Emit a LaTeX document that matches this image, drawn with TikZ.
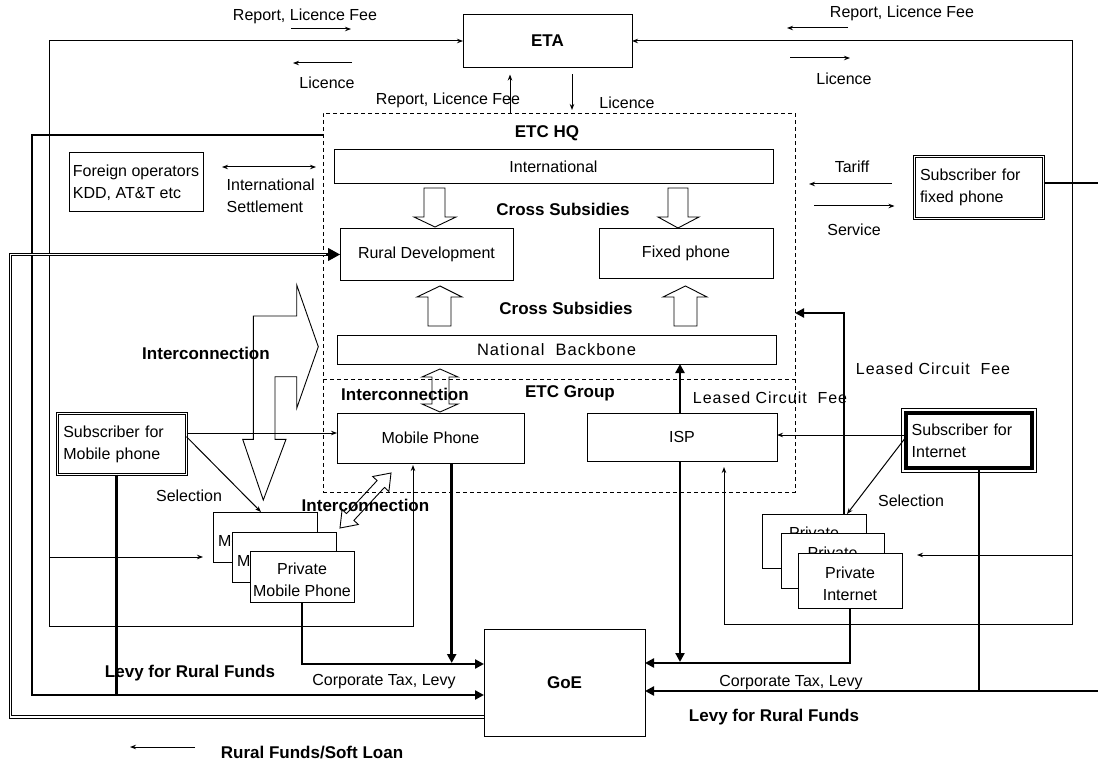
\documentclass[tikz,border=0pt]{standalone}
\usepackage{fontspec}
\setmainfont{Liberation Sans}
\newfontfamily\spacedfont[LetterSpace=6]{Liberation Sans}
\usetikzlibrary{arrows.meta}
\begin{document}
\begin{tikzpicture}[x=1pt,y=-1pt,
  every node/.style={inner sep=0pt, outer sep=0pt},
  txt/.style={font=\fontsize{16}{22}\selectfont},
  hdr/.style={font=\fontsize{17}{22}\selectfont\bfseries},
  wide/.style={font=\fontsize{16}{22}\spacedfont},
  box/.style={draw, line width=1pt, fill=white, txt, align=center},
  dblbox/.style={draw, double, double distance=1.6pt, line width=0.7pt, fill=white, txt, align=left},
  hqbox/.style={draw, line width=0.9pt, dash pattern=on 4pt off 3pt},
  hqline/.style={line width=0.9pt, dash pattern=on 4pt off 3pt},
  flow/.style={line width=1pt, -{Stealth[length=6pt,width=4.5pt]}},
  flowboth/.style={line width=1pt, {Stealth[length=6pt,width=4.5pt]}-{Stealth[length=6pt,width=4.5pt]}},
  money/.style={line width=2.6pt, -{Triangle[length=9pt,width=9pt]}},
  moneyline/.style={line width=2.6pt},
  fund/.style={double, double distance=1.8pt, line width=0.8pt},
  fundtip/.style={line width=1pt, -{Triangle[length=12pt,width=13pt]}},
  hollow/.style={draw, line width=0.9pt, line join=miter}
]
\useasboundingbox (0,0) rectangle (1098,762);
\fill[white] (0,0) rectangle (1098,762);

% ---------- boxes ----------
\node[box, hdr, minimum width=169pt, minimum height=53pt] (eta) at (547.5,41) {ETA};
\node[hqbox, minimum width=472pt, minimum height=379pt] (hq) at (559,302.5) {};
\draw[hqline] (hq.west |- 0,379) -- (hq.east |- 0,379);

\node[box, minimum width=439pt, minimum height=34pt] (intl) at (553.5,167) {International};
\node[box, minimum width=173pt, minimum height=51pt] (rd) at (426.5,254.5) {Rural Development};
\node[box, minimum width=174pt, minimum height=49pt] (fp) at (686,253.5) {Fixed phone};
\node[box, font=\fontsize{16.5}{22}\spacedfont, minimum width=439pt, minimum height=29pt] (nb) at (556.5,349.5) {National\ \ Backbone};
\node[box, minimum width=187pt, minimum height=50pt] (mob) at (430.5,438) {Mobile Phone};
\node[box, minimum width=190pt, minimum height=48pt] (isp) at (682,437) {ISP};
\node[box, hdr, minimum width=161pt, minimum height=107pt] (goe) at (564.5,682.5) {GoE};

\node[box, align=left, minimum width=134pt, minimum height=59pt] (fo) at (136,182.5) {Foreign operators\\KDD, AT\&T etc};

\node[dblbox, inner xsep=5.5pt, text width=118pt, minimum height=62pt] (sf) at (979,187.5) {Subscriber for\\fixed phone};
\node[dblbox, inner xsep=5.8pt, text width=117.4pt, minimum height=61pt] (sm) at (122,444) {Subscriber for\\Mobile phone};

\node[draw, line width=4pt, fill=white, txt, align=left, inner xsep=5.7pt, text width=114.6pt, minimum height=55pt] (si) at (969,440.5) {Subscriber for\\Internet};
\draw[line width=1pt] ([shift={(-4.5,-4.5)}]si.north west) rectangle ([shift={(4.5,4.5)}]si.south east);

% private mobile operators (stacked, only the edge of the rear ones shows)
\node[box, minimum width=104pt, minimum height=50pt] (mb1) at (265,537) {};
\node[txt, anchor=west] at ([xshift=5pt,yshift=-4pt]mb1.west) {Mo};
\node[box, minimum width=104pt, minimum height=50pt] (mb2) at (284,557) {};
\node[txt, anchor=west] at ([xshift=5pt,yshift=-4pt]mb2.west) {Mo};
\node[box, minimum width=104pt, minimum height=51pt] (mb3) at (302,576.5) {};
\node[txt, align=center] at ([yshift=-3.5pt]mb3.center) {Private\\Mobile Phone};

% private internet providers (stacked)
\node[box, minimum width=104pt, minimum height=54pt] (ib1) at (814,541) {};
\node[txt] at ([yshift=8pt]ib1.center) {Private};
\node[box, minimum width=103pt, minimum height=55pt] (ib2) at (832.5,560.5) {};
\node[txt] at ([yshift=8pt]ib2.center) {Private};
\node[box, minimum width=104pt, minimum height=55pt] (ib3) at (850,580.5) {};
\node[txt, align=center] at ([yshift=-3.5pt]ib3.center) {Private\\Internet};

% ---------- hollow block arrows ----------
\draw[hollow] (424,188) -- (445,188) -- (445,217) -- (456,217) -- (435,227) -- (414,217) -- (424,217) -- cycle;
\draw[hollow] (668,188) -- (688,188) -- (688,217) -- (699,217) -- (678,228) -- (658,217) -- (668,217) -- cycle;
\draw[hollow] (428,326) -- (451,326) -- (451,297) -- (462,297) -- (440,286) -- (417,297) -- (428,297) -- cycle;
\draw[hollow] (674,326) -- (697,326) -- (697,297) -- (707,297) -- (685.5,286) -- (663,297) -- (674,297) -- cycle;
\draw[hollow] (440,369) -- (458,377) -- (449,377) -- (449,404) -- (458,404) -- (440,412) -- (422,404) -- (432,404) -- (432,377) -- (422,377) -- cycle;
\draw[hollow] (253.3,439.3) -- (253.3,316) -- (296.7,316) -- (296.7,285) -- (318.3,346.7) -- (296.7,408.3) -- (296.7,376.7) -- (275,376.7) -- (275,439.3) -- (286,439.3) -- (263.3,500) -- (242.7,439.3) -- cycle;
\draw[hollow] (340,528) -- (358.3,524.5) -- (353.9,520.4) -- (384.5,487.4) -- (388.9,491.5) -- (391,473) -- (372.7,476.5) -- (377.1,480.6) -- (346.5,513.6) -- (342.1,509.5) -- cycle;

% ---------- licence / report flows with ETA ----------
\draw[flowboth, shorten >=2pt] (eta.west) -- (49,41) -- (49,626) -- (413,626) -- (413,0 |- mob.south);
\draw[flow, shorten >=10pt] (49,557) -- (mb1.west |- 0,557);
\draw[flowboth, shorten >=6pt] (eta.east) -- (1072,41) -- (1072,624) -- (724,624) -- (724,0 |- isp.south);
\draw[flow, shorten >=15pt] (1072,555) -- (ib3.east |- 0,555);
\draw[flow, shorten >=7pt] (510,0 |- hq.north) -- (510,0 |- eta.south);
\draw[flow, shorten <=7pt, shorten >=3pt] (572,0 |- eta.south) -- (572,0 |- hq.north);

% small direction markers beside the labels
\draw[flow] (291,29) -- (351,29);
\draw[flow] (352,63) -- (293,63);
\draw[flow] (848,28) -- (787,28);
\draw[flow] (790,58) -- (850,58);
\draw[flow] (195,747) -- (130,747);

% settlement, tariff, service
\draw[flowboth, shorten <=19pt, shorten >=7pt] (fo.east |- 0,167) -- (hq.west |- 0,167);
\draw[flow, shorten <=23pt, shorten >=14pt] (sf.west |- 0,184) -- (hq.east |- 0,184);
\draw[flow, shorten <=19pt, shorten >=20pt] (hq.east |- 0,206) -- (sf.west |- 0,206);

% subscribers choosing operators
\draw[flow] (sm.east |- 0,433) -- (mob.west |- 0,433);
\draw[flow] (sm.east |- 0,436.7) -- (261,0 |- mb1.north);
\draw[flow] (si.west |- 0,435) -- (isp.east |- 0,435);
\draw[flow] (si.west |- 0,437) -- (847,0 |- ib1.north);

% ---------- taxes, levies and leased circuits ----------
\draw[money] (sf.east |- 0,183) -- (1101,183) -- (1101,691) -- (goe.east |- 0,691);
\draw[moneyline] (si.south -| 979,0) -- (979,691);
\draw[money] (hq.west |- 0,135) -- (32,135) -- (32,695) -- (goe.west |- 0,695);
\draw[moneyline] (sm.south -| 116.7,0) -- (116.7,695);
\draw[money] (mb3.south) -- (mb3.south |- 0,664) -- (goe.west |- 0,664);
\draw[money, shorten >=1pt] (451.7,0 |- mob.south) -- (451.7,664);
\draw[money] (ib3.south) -- (ib3.south |- 0,663) -- (goe.east |- 0,663);
\draw[money, shorten >=1pt] (680,0 |- isp.south) -- (680,663);
\draw[money] (680,0 |- isp.north) -- (680,0 |- nb.south);
\draw[money] (844,0 |- ib1.north) -- (844,313) -- (hq.east |- 0,313);

% rural funds / soft loan back to rural development
\draw[fund] (goe.west |- 0,717) -- (10.5,717) -- (10.5,254.5) -- ([xshift=-11pt]rd.west);
\draw[fundtip] ([xshift=-14pt]rd.west) -- (rd.west);

% ---------- labels ----------
\node[txt] (rl1) at (305,16) {Report, Licence Fee};
\node[txt] (ll1) at (327,83) {Licence};
\node[txt] (rl2) at (448,100) {Report, Licence Fee};
\node[txt] (ll2) at (627,103) {Licence};
\node[txt] (rl3) at (902,13) {Report, Licence Fee};
\node[txt] (ll3) at (844,79) {Licence};
\node[hdr] (hqt) at (547,133) {ETC HQ};
\node[hdr] (cs1) at (563,209) {Cross Subsidies};
\node[hdr] (cs2) at (566,308) {Cross Subsidies};
\node[txt, align=left, anchor=west] (settle) at (226.7,196) {International\\Settlement};
\node[txt] (tariff) at (852,167) {Tariff};
\node[txt] (service) at (854,230) {Service};
\node[hdr] (ic1) at (206,353) {Interconnection};
\node[hdr] (ic2) at (405,394) {Interconnection};
\node[hdr] (ic3) at (365.5,505) {Interconnection};
\node[hdr] (grp) at (570,393) {ETC Group};
\node[wide] (lcf1) at (770,398) {Leased Circuit\ \ Fee};
\node[wide] (lcf2) at (933,369) {Leased Circuit\ \ Fee};
\node[txt] (sel1) at (189,496) {Selection};
\node[txt] (sel2) at (911,501) {Selection};
\node[hdr] (levy1) at (190,673) {Levy for Rural Funds};
\node[hdr] (levy2) at (774,717) {Levy for Rural Funds};
\node[txt] (ct1) at (384,682) {Corporate Tax, Levy};
\node[txt] (ct2) at (791,683) {Corporate Tax, Levy};
\node[hdr] (rf) at (312,753) {Rural Funds/Soft Loan};
\end{tikzpicture}
\end{document}
